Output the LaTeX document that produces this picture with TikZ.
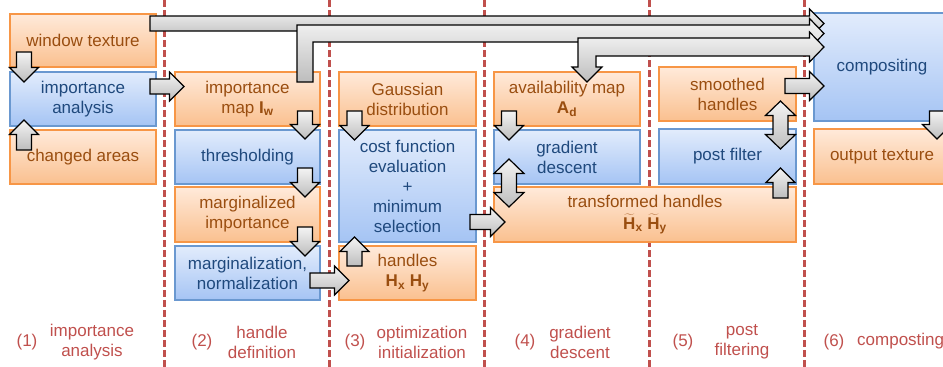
\documentclass[tikz,border=0pt]{standalone}
\usepackage{fontspec}
\setmainfont{Liberation Sans}
\usetikzlibrary{calc}
\definecolor{ored}{HTML}{C0504D}
\definecolor{otext}{HTML}{9A4E10}
\definecolor{btext}{HTML}{1F497D}
\definecolor{oborder}{HTML}{F79646}
\definecolor{otop}{HTML}{FFEADA}
\definecolor{obot}{HTML}{FAC08F}
\definecolor{bborder}{HTML}{6A98D0}
\definecolor{btop}{HTML}{E2ECFC}
\definecolor{bbot}{HTML}{A5C4F4}
\definecolor{atop}{HTML}{F4F4F4}
\definecolor{abot}{HTML}{BDBDBD}
\tikzset{
  txt/.style={align=center, inner sep=0pt, font=\fontsize{17}{20}\selectfont},
  obox/.style={txt, draw=oborder, line width=1.2pt, top color=otop, bottom color=obot, text=otext},
  bbox/.style={txt, draw=bborder, line width=1.2pt, top color=btop, bottom color=bbot, text=btext},
  blk/.style={draw=black, line width=1.2pt, top color=atop, bottom color=abot, line join=miter},
  sepline/.style={draw=ored, line width=2.5pt, dash pattern=on 6.5pt off 3.5pt},
  lbl/.style={txt, text=ored}
}
\newcommand\sarrow[2]{%
  \path[blk] let \p1=(#1), \p2=(#2), \n1={atan2(\y2-\y1,\x2-\x1)}, \n2={veclen(\x2-\x1,\y2-\y1)-14.5pt} in
    ($(\p1)+(\n1+90:7.5pt)$) -- ($(\p1)+(\n1:\n2)+(\n1+90:7.5pt)$) -- ($(\p1)+(\n1:\n2)+(\n1+90:14.5pt)$) -- (\p2)
    -- ($(\p1)+(\n1:\n2)+(\n1-90:14.5pt)$) -- ($(\p1)+(\n1:\n2)+(\n1-90:7.5pt)$) -- ($(\p1)+(\n1-90:7.5pt)$) -- cycle;}
\newcommand\darrow[2]{%
  \path[blk] let \p1=(#1), \p2=(#2), \n1={atan2(\y2-\y1,\x2-\x1)}, \n2={veclen(\x2-\x1,\y2-\y1)-14.5pt} in
    (\p1) -- ($(\p1)+(\n1:14.5pt)+(\n1+90:15pt)$) -- ($(\p1)+(\n1:14.5pt)+(\n1+90:7.5pt)$) -- ($(\p1)+(\n1:\n2)+(\n1+90:7.5pt)$) -- ($(\p1)+(\n1:\n2)+(\n1+90:15pt)$) -- (\p2)
    -- ($(\p1)+(\n1:\n2)+(\n1-90:15pt)$) -- ($(\p1)+(\n1:\n2)+(\n1-90:7.5pt)$) -- ($(\p1)+(\n1:14.5pt)+(\n1-90:7.5pt)$) -- ($(\p1)+(\n1:14.5pt)+(\n1-90:15pt)$) -- cycle;}
\newcommand\tH{$\widetilde{\mbox{\textbf{H}}}$}
\begin{document}
\begin{tikzpicture}[x=1pt,y=-1pt]
\useasboundingbox (0,0) rectangle (943,367);
% column separators
\foreach \xx in {164.5,329.5,484.5,649.5,804.5} \draw[sepline] (\xx,0) -- (\xx,367);
% boxes
\node[obox, minimum width=146pt, minimum height=53pt] (wt) at (83,40.5) {window texture};
\node[bbox, minimum width=146pt, minimum height=54pt] (ia) at (83,99) {importance\\analysis};
\node[obox, minimum width=146pt, minimum height=54pt] (ca) at (83,157) {changed areas};
\node[obox, minimum width=145pt, minimum height=54pt] (im) at (247.5,99) {importance\\map \textbf{I\textsubscript{w}}};
\node[bbox, minimum width=145pt, minimum height=54pt] (th) at (247.5,157) {thresholding};
\node[obox, minimum width=145pt, minimum height=55pt] (mi) at (247.5,214.5) {marginalized\\importance};
\node[bbox, minimum width=145pt, minimum height=54pt] (mn) at (247.5,273) {marginalization,\\normalization};
\node[obox, minimum width=137pt, minimum height=54pt] (gs) at (407.5,99) {Gaussian\\distribution};
\node[bbox, minimum width=137pt, minimum height=112pt] (cf) at (407.5,186) {cost function\\evaluation\\+\\minimum\\selection};
\node[obox, minimum width=137pt, minimum height=54pt] (hd) at (407.5,273) {handles\\\textbf{H\textsubscript{x} H\textsubscript{y}}};
\node[obox, minimum width=146pt, minimum height=54pt] (am) at (567,99) {availability map\\\textbf{A\textsubscript{d}}};
\node[bbox, minimum width=146pt, minimum height=54pt] (gd) at (567,157) {gradient\\descent};
\node[obox, minimum width=302pt, minimum height=55pt] (tf) at (645,214.5) {transformed handles\\[2pt]\tH\textbf{\textsubscript{x}} \tH\textbf{\textsubscript{y}}};
\node[obox, minimum width=137pt, minimum height=54pt] (sh) at (727.5,94) {smoothed\\handles};
\node[bbox, minimum width=137pt, minimum height=55pt] (pf) at (727.5,156.5) {post filter};
\node[bbox, minimum width=136pt, minimum height=108pt] (co) at (882,67) {compositing};
\node[obox, minimum width=136pt, minimum height=55pt] (ot) at (882,156.5) {output texture};
% bottom labels
\node[lbl] (n1) at (27,342) {(1)};
\node[lbl] (l1) at (92,342) {importance\\analysis};
\node[lbl] (n2) at (202,342) {(2)};
\node[lbl] (l2) at (262,342) {handle\\definition};
\node[lbl] (n3) at (355,342) {(3)};
\node[lbl] (l3) at (422,342) {optimization\\initialization};
\node[lbl] (n4) at (525,342) {(4)};
\node[lbl] (l4) at (580,342) {gradient\\descent};
\node[lbl] (n5) at (683,342) {(5)};
\node[lbl] (l5) at (742,342) {post\\filtering};
\node[lbl] (n6) at (834,342) {(6)};
\node[lbl, anchor=west] (l6) at (857,341) {composting};
% arrow end points
\coordinate (a1s) at (24,52);    \coordinate (a1e) at (24,82);
\coordinate (a2s) at (24,150);   \coordinate (a2e) at (24,120);
\coordinate (a3s) at (150,86.5); \coordinate (a3e) at (184,86.5);
\coordinate (a4s) at (305,111);  \coordinate (a4e) at (305,139);
\coordinate (a5s) at (305,168);  \coordinate (a5e) at (305,197);
\coordinate (a6s) at (305,227);  \coordinate (a6e) at (305,256);
\coordinate (a7s) at (310,280.5);\coordinate (a7e) at (349,280.5);
\coordinate (a8s) at (354.5,266);\coordinate (a8e) at (354.5,237);
\coordinate (a9s) at (354.5,111);\coordinate (a9e) at (354.5,140);
\coordinate (a10s) at (470,222); \coordinate (a10e) at (505,222);
\coordinate (a11s) at (509,111); \coordinate (a11e) at (509,140);
\coordinate (a12s) at (509,159); \coordinate (a12e) at (509,207);
\coordinate (a13s) at (780.5,101);\coordinate (a13e) at (780.5,149);
\coordinate (a14s) at (780.5,198);\coordinate (a14e) at (780.5,168);
\coordinate (a15s) at (785,86);  \coordinate (a15e) at (824,86);
\coordinate (a16s) at (937,111); \coordinate (a16e) at (937,139);
\coordinate (aS) at (150,23.5);  \coordinate (aE) at (824,23.5);
\coordinate (bS) at (305,82);    \coordinate (bE) at (824,33.5);
\coordinate (cS) at (587,82);    \coordinate (cE) at (824,47);
% straight arrows
\sarrow{a1s}{a1e}
\sarrow{a2s}{a2e}
\sarrow{a3s}{a3e}
\sarrow{a4s}{a4e}
\sarrow{a5s}{a5e}
\sarrow{a6s}{a6e}
\sarrow{a7s}{a7e}
\sarrow{a8s}{a8e}
\sarrow{a9s}{a9e}
\sarrow{a10s}{a10e}
\sarrow{a11s}{a11e}
\darrow{a12s}{a12e}
\darrow{a13s}{a13e}
\sarrow{a14s}{a14e}
\sarrow{a15s}{a15e}
\sarrow{a16s}{a16e}
% long arrows to compositing
\sarrow{aS}{aE}
\path[blk] let \p1=(bS), \p2=(bE) in
  (\x1-8pt,\y1) -- (\x1-8pt,\y2+8.5pt) -- (\x2-14.5pt,\y2+8.5pt) -- (\x2-14.5pt,\y2+15pt) -- (\p2)
  -- (\x2-14.5pt,\y2-15pt) -- (\x2-14.5pt,\y2-8.5pt) -- (\x1+8pt,\y2-8.5pt) -- (\x1+8pt,\y1) -- cycle;
\path[blk] let \p1=(cS), \p2=(cE) in
  (\p1) -- (\x1-15pt,\y1+15pt) -- (\x1-9pt,\y1+15pt) -- (\x1-9pt,\y2+9pt) -- (\x2-14.5pt,\y2+9pt) -- (\x2-14.5pt,\y2+15pt) -- (\p2)
  -- (\x2-14.5pt,\y2-15pt) -- (\x2-14.5pt,\y2-9pt) -- (\x1+9pt,\y2-9pt) -- (\x1+9pt,\y1+15pt) -- (\x1+15pt,\y1+15pt) -- cycle;
\end{tikzpicture}
\end{document}
